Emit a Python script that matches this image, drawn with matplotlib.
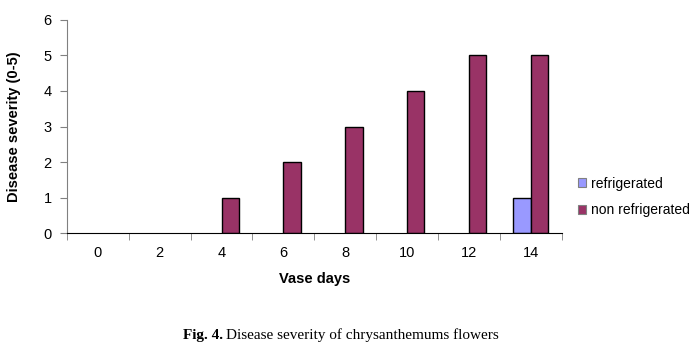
import matplotlib
matplotlib.use("Agg")
import matplotlib.pyplot as plt
import numpy as np

days = ["0", "2", "4", "6", "8", "10", "12", "14"]
refrigerated = [0, 0, 0, 0, 0, 0, 0, 1]
non_refrigerated = [0, 0, 1, 2, 3, 4, 5, 5]

plt.rcParams['font.family'] = ['Liberation Sans', 'DejaVu Sans']

fig = plt.figure(figsize=(6.9, 3.63), dpi=100)
ax = fig.add_axes([0.097, 0.358, 0.717, 0.587])

x = np.arange(len(days))
w = 0.28
lw_r = [1.0 if v > 0 else 0 for v in refrigerated]
lw_n = [1.0 if v > 0 else 0 for v in non_refrigerated]
ax.bar(x - w / 2, refrigerated, w, color='#9999FF', edgecolor='black', linewidth=lw_r, label='refrigerated')
ax.bar(x + w / 2, non_refrigerated, w, color='#993366', edgecolor='black', linewidth=lw_n, label='non refrigerated')

ax.set_xlim(-0.5, len(days) - 0.5)
ax.set_ylim(0, 6)
ax.set_yticks(range(0, 7))
ax.set_xticks(x)
ax.set_xticklabels(days)
ax.set_xticks(np.arange(-0.5, len(days)), minor=True)
ax.tick_params(axis='x', which='major', length=0, labelsize=10.5, pad=9)
ax.tick_params(axis='x', which='minor', length=5, color='gray', direction='out')
ax.tick_params(axis='y', length=5, color='gray', labelsize=10.5, pad=6)

for s in ['top', 'right']:
    ax.spines[s].set_visible(False)
ax.spines['left'].set_color('gray')
ax.spines['bottom'].set_color('black')
ax.spines['bottom'].set_zorder(5)

ax.set_xlabel('Vase days', fontsize=10.5, fontweight='bold', labelpad=9)
ax.set_ylabel('Disease severity (0-5)', fontsize=10.5, fontweight='bold', labelpad=16)

leg = ax.legend(loc='center left', bbox_to_anchor=(1.008, 0.17), frameon=False, fontsize=10,
                handlelength=0.6, handleheight=0.6, handletextpad=0.3, labelspacing=0.9)
for h in leg.legend_handles:
    h.set_edgecolor('gray')
    h.set_linewidth(0.8)

fig.text(0.265, 0.077, 'Fig. 4.', fontsize=11, ha='left', va='center',
         family='Liberation Serif', fontweight='bold')
fig.text(0.328, 0.077, 'Disease severity of chrysanthemums flowers', fontsize=11, ha='left', va='center',
         family='Liberation Serif')

fig.savefig('out.png', dpi=100)
